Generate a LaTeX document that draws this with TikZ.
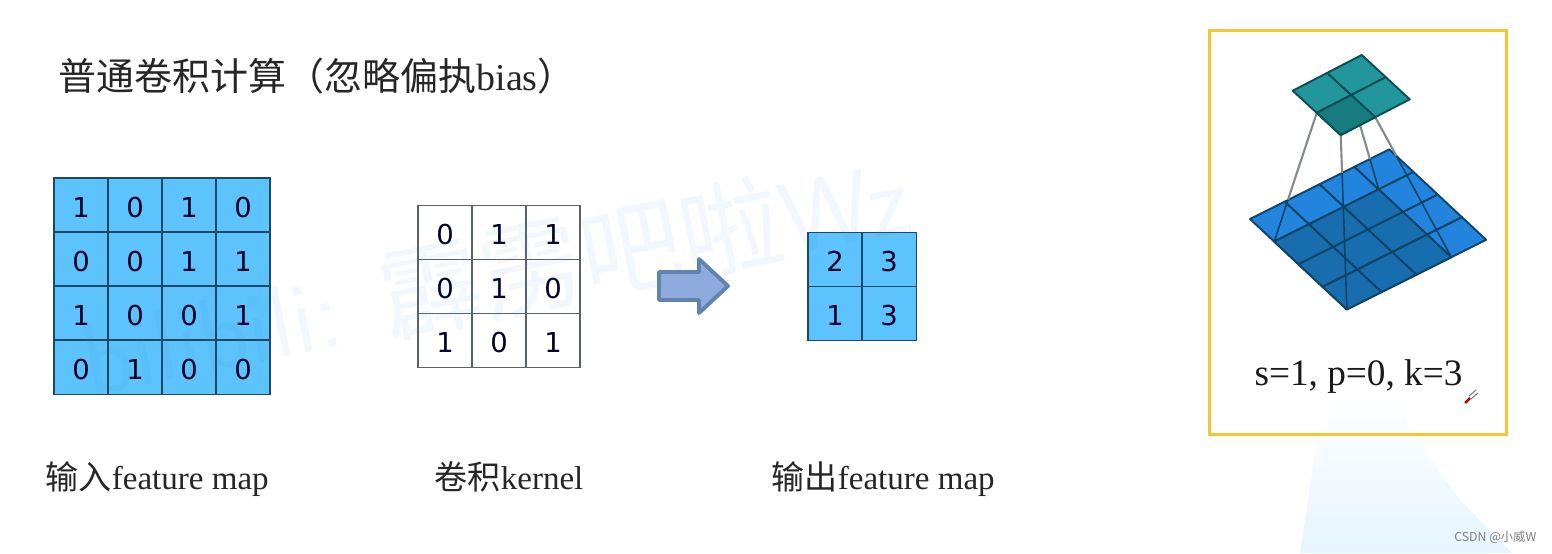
\documentclass[tikz,border=0pt]{standalone}
\usepackage{fontspec}
\setmainfont{Liberation Serif}
\newfontfamily\cjk{Noto Sans CJK SC}
\newfontfamily\digitfont{DejaVu Sans}
\definecolor{CellBlue}{HTML}{5CC3FC}
\definecolor{GridInk}{HTML}{1F4766}
\definecolor{KernelInk}{HTML}{5A6268}
\definecolor{ArrowFill}{HTML}{8FAADC}
\definecolor{ArrowEdge}{HTML}{6283AE}
\definecolor{PanelGold}{HTML}{F6C630}
\definecolor{BaseBlue}{HTML}{2284DC}
\definecolor{BaseDark}{HTML}{186DAE}
\definecolor{BaseInk}{HTML}{0D4468}
\definecolor{CapTeal}{HTML}{22979B}
\definecolor{CapDark}{HTML}{167C80}
\definecolor{CapInk}{HTML}{0B4E55}
\definecolor{SideGray}{HTML}{848A8C}
\definecolor{MarkBlue}{HTML}{3F8FD8}
\definecolor{LogoPale}{HTML}{E6F5FE}
\usetikzlibrary{calc}

\begin{document}
\begin{tikzpicture}[x=0.01cm,y=-0.01cm,
          incell/.style={rectangle,draw=GridInk,fill=CellBlue,line width=0.3pt,
                         inner sep=0pt,outer sep=0pt,minimum size=0.54cm,
                         text height=6.9pt,text depth=0pt,
                         text=black!85!blue,font=\digitfont\fontsize{7.8}{9}\selectfont},
          kernelcell/.style={incell,draw=KernelInk,fill=none},
          caption/.style={anchor=base west,inner sep=0pt,text=black!85,
                          font=\fontsize{9.4}{11}\selectfont},
          basegrid/.style={draw=BaseInk,line width=0.55pt,line join=round},
          capgrid/.style={draw=CapInk,line width=0.55pt,line join=round},
          sideline/.style={draw=SideGray,line width=0.6pt},
          hiddenline/.style={draw=BaseInk,line width=0.45pt}]
        \useasboundingbox (0,0) rectangle (1552,553);
        \shade[top color=white,middle color=LogoPale!55!white,bottom color=LogoPale]
            (1345,392) -- (1392,392) -- (1417,440) -- (1460,500)
            -- (1512,553) -- (1300,553) -- (1317,440) -- cycle;

        \node[anchor=base west,inner sep=0pt,text=black!85,font=\fontsize{10.8}{13}\selectfont]
            (title) at (58,90) {{\cjk 普通卷积计算（忽略偏执}bias{\cjk ）}};

        % input, kernel, output
        \foreach \row [count=\j from 0] in {{1,0,1,0},{0,0,1,1},{1,0,0,1},{0,1,0,0}}
          \foreach \val [count=\i from 0] in \row
            \node[incell] (in\j\i) at ({81+54*\i},{205+54*\j}) {\val};
        \foreach \row [count=\j from 0] in {{0,1,1},{0,1,0},{1,0,1}}
          \foreach \val [count=\i from 0] in \row
            \node[kernelcell] (ker\j\i) at ({445+54*\i},{232.5+54*\j}) {\val};
        \foreach \row [count=\j from 0] in {{2,3},{1,3}}
          \foreach \val [count=\i from 0] in \row
            \node[incell] (out\j\i) at ({835+54*\i},{259.5+54*\j}) {\val};

        \node[text=MarkBlue,text opacity=0.07,rotate=11.4,inner sep=0pt,
              font=\sffamily\fontsize{29}{31}\selectfont]
            (mark) at (495,275) {bilibili: {\cjk 霹雳吧啦}Wz};

        \draw[fill=ArrowFill,draw=ArrowEdge,line width=1.1pt,line join=round]
            (659,272) -- (699,272) -- (699,259) -- (728,286) -- (699,313)
            -- (699,300) -- (659,300) -- cycle;

        \node[caption] (inlabel) at (45,489) {{\cjk 输入}feature map};
        \node[caption] (kerlabel) at (434,489) {{\cjk 卷积}kernel};
        \node[caption] (outlabel) at (771,489) {{\cjk 输出}feature map};

        % base layer
        \begin{scope}[shift={(1250,219)},x={(0.348cm,0.174cm)},y={(0.242cm,-0.226cm)}]
          \foreach \i in {0,...,3}
            \foreach \j in {0,...,3}
              \draw[basegrid,fill=BaseBlue] (\i,\j) -- ({\i+1},\j) -- ({\i+1},{\j+1}) -- (\i,{\j+1}) -- cycle;
          \foreach \i in {0,1,2}
            \foreach \j in {1,2,3}
              \draw[basegrid,fill=BaseDark] (\i,\j) -- ({\i+1},\j) -- ({\i+1},{\j+1}) -- (\i,{\j+1}) -- cycle;
          \coordinate (baseW) at (0,0);
          \coordinate (baseN) at (4,0);
          \coordinate (baseE) at (4,4);
          \coordinate (baseL) at (0,1);
          \coordinate (baseB) at (0,4);
          \coordinate (baseR) at (3,4);
          \coordinate (baseT) at (3,1);
        \end{scope}

        % top layer corners
        \begin{scope}[shift={(1292.7,90.7)},x={(0.345cm,0.1785cm)},y={(0.24cm,-0.2215cm)}]
          \coordinate (capL) at (0,1);
          \coordinate (capB) at (0,2);
          \coordinate (capR) at (1,2);
          \coordinate (capT) at (1,1);
        \end{scope}

        \coordinate (hitL) at (intersection of capL--baseL and baseW--baseN);
        \coordinate (hitB) at (intersection of capB--baseB and baseW--baseN);
        \coordinate (hitT) at (intersection of capT--baseT and baseW--baseN);
        \coordinate (hitR) at (intersection of capR--baseR and baseN--baseE);
        \draw[sideline] (capL)--(hitL) (capB)--(hitB) (capT)--(hitT) (capR)--(hitR);
        \draw[hiddenline] (hitL)--(baseL) (hitB)--(baseB) (hitT)--(baseT) (hitR)--(baseR);

        \begin{scope}[shift={(1292.7,90.7)},x={(0.345cm,0.1785cm)},y={(0.24cm,-0.2215cm)}]
          \foreach \i in {0,1}
            \foreach \j in {0,1}
              \draw[capgrid,fill=CapTeal] (\i,\j) -- ({\i+1},\j) -- ({\i+1},{\j+1}) -- (\i,{\j+1}) -- cycle;
          \draw[capgrid,fill=CapDark] (0,1) -- (1,1) -- (1,2) -- (0,2) -- cycle;
        \end{scope}

        \node[anchor=base,inner sep=0pt,text=black!90,font=\fontsize{10.6}{13}\selectfont]
            (params) at (1358.5,385) {s=1, p=0, k=3};
        \node[draw=PanelGold,line width=0.85pt,inner sep=0pt,outer sep=0pt,
              minimum width=2.97cm,minimum height=4.04cm] (panel) at (1358,232.5) {};

        % pen cursor
        \draw[red!75!black,line width=0.7pt] (1465,403) -- (1470,398);
        \draw[gray,line width=0.3pt] (1469,396) -- (1476,390) (1471,399) -- (1478,393);

        \node[anchor=base east,inner sep=0pt,text=black!50,font=\cjk\fontsize{3.5}{4}\selectfont]
            (credit) at (1537,541) {CSDN @小威W};
      \end{tikzpicture}
\end{document}
